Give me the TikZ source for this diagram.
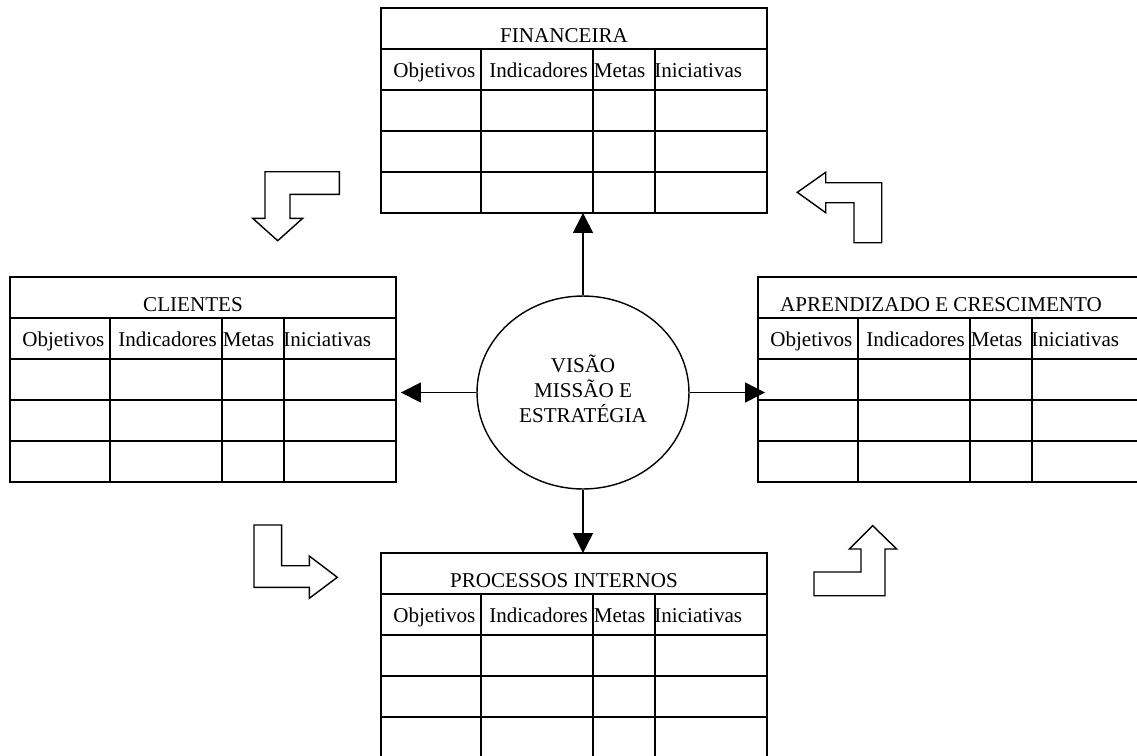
\documentclass[tikz,border=0pt]{standalone}
\usepackage{fontspec}
\setmainfont{Liberation Serif}
\usepackage{tikz}
\usetikzlibrary{arrows.meta, shapes.geometric}
\tikzstyle{tabframe} = [rectangle, draw, anchor=north west, minimum width=7.72cm,
    minimum height=4.1cm, inner sep=0pt, outer sep=0pt, line width=1.1pt]
\tikzstyle{grid} = [line width=1.1pt]
\tikzstyle{ttl} = [anchor=base, inner sep=0pt]
\tikzstyle{colhead} = [anchor=base west, inner sep=0pt]

% one table of the scorecard: name, x, y (top left), title
\newcommand{\bsctable}[4]{%
  \node[tabframe] (#1) at (#2,#3) {};
  \begin{scope}[shift={(#2,#3)}]
    \foreach \r in {41,82,123,164} \draw[grid] (0,\r) -- (386,\r);
    \foreach \c in {100,212,274} \draw[grid] (\c,41) -- (\c,205);
    \node[ttl] (#1-t) at (183,34) {#4};
    \node[colhead] (#1-o) at (12,69) {Objetivos};
    \node[colhead] (#1-i) at (108,69) {Indicadores};
    \node[colhead] (#1-m) at (212.5,69) {Metas};
    \node[colhead] (#1-n) at (273,69) {Iniciativas};
  \end{scope}}

\begin{document}
\begin{tikzpicture}[
x=0.02cm, y=-0.02cm,
font=\fontsize{12}{14.2}\selectfont,
core/.style = {ellipse, draw, line width=0.8pt, minimum width=4.24cm,
               minimum height=3.86cm, align=center, inner sep=0pt},
conn/.style = {draw, line width=0.85pt, -{Triangle[length=0.4cm,width=0.4cm]}},
blockarrow/.style = {draw, line width=0.8pt, line join=miter, fill=white}
                    ]
\path[use as bounding box, clip] (0,0) rectangle (1137,755);

\bsctable{fin}{381}{8}{FINANCEIRA}
\bsctable{cli}{10}{277}{CLIENTES}
\bsctable{apr}{758}{277}{APRENDIZADO E CRESCIMENTO}
\bsctable{pro}{381}{553}{PROCESSOS INTERNOS}

\node[core] (vme) at (583,392.5) {VIS\~AO\\MISS\~AO E\\ESTRAT\'EGIA\\[-9.7pt]};

% arrows from the centre
\draw[conn] (vme.north) -- (vme.north |- fin.south);
\draw[conn, shorten >=0.1cm] (vme.west) -- (vme.west -| cli.east);
\draw[conn, shorten >=-0.14cm] (vme.east) -- (vme.east -| apr.west);
\draw[conn] (vme.south) -- (vme.south |- pro.north);

% hollow arrows round the tables
\draw[blockarrow] (265,171.7) -- (339.3,171.7) -- (339.3,194.3) -- (290,194.3)
  -- (290,218.3) -- (302.7,218.3) -- (277.7,240.7) -- (252.7,218.3)
  -- (265,218.3) -- cycle;
\draw[blockarrow] (797.3,192.3) -- (825.7,172.3) -- (825.7,182.7) -- (881.7,182.7)
  -- (881.7,242.7) -- (854,242.7) -- (854,202.7) -- (825.7,202.7)
  -- (825.7,212.7) -- cycle;
\draw[blockarrow] (254,525) -- (281.7,525) -- (281.7,565.7) -- (309.3,565.7)
  -- (309.3,556) -- (337.3,577.3) -- (309.3,598.3) -- (309.3,587.3)
  -- (254,587.3) -- cycle;
\draw[blockarrow] (872.7,525.7) -- (896.7,549) -- (885,549) -- (885,595.7)
  -- (814,595.7) -- (814,572) -- (861,572) -- (861,549)
  -- (849.3,549) -- cycle;
\end{tikzpicture}
\end{document}
